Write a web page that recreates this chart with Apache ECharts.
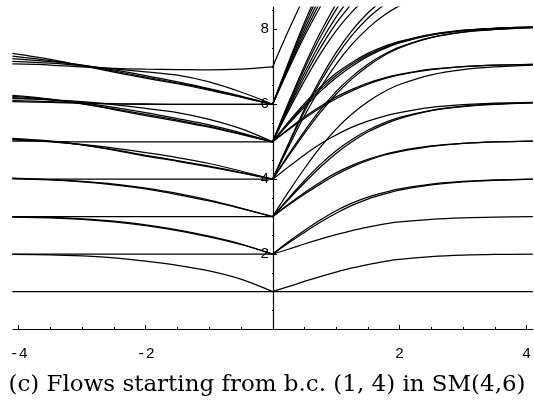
<!DOCTYPE html>
<html><head><meta charset="utf-8">
<script src="https://cdn.jsdelivr.net/npm/echarts@6/dist/echarts.min.js"></script>
<style>html,body{margin:0;padding:0;background:#fff}#c{width:534px;height:406px}</style>
</head><body><div id="c"></div>
<script>
// ---- data ----
const xLeft  = [-4.1, -3.5, -3, -2.5, -2, -1.5, -1, -0.5, 0];
const xRight = [0, 0.25, 0.5, 0.75, 1, 1.25, 1.5, 1.75, 2, 2.5, 3, 3.5, 4.1];
const xFull  = [-4.1, 4.1];
const fullLine = [1, 1];

const leftFlat = [
  [2, 2, 2, 2, 2, 2, 2, 2, 2],
  [3, 3, 3, 3, 3, 3, 3, 3, 3],
  [4.01, 4.0, 4.0, 4.0, 4.0, 4.0, 4.0, 4.0, 4.0],
  [5.02, 5.01, 5.0, 5.0, 5.0, 5.0, 5.0, 5.0, 5.0],
  [6.07, 6.05, 6.03, 6.01, 6.0, 6.0, 6.0, 6.0, 6.0],
  [6.1, 6.07, 6.04, 6.02, 6.01, 6.0, 6.0, 6.0, 6.0],
  [7.08, 7.05, 7.0, 6.96, 6.94, 6.93, 6.92, 6.94, 7.0]
];
const leftDrop = [
  [1.99, 1.98, 1.95, 1.9, 1.81, 1.7, 1.55, 1.33, 1.0],
  [2.99, 2.97, 2.93, 2.86, 2.76, 2.63, 2.46, 2.26, 2.0],
  [3.0, 2.98, 2.94, 2.88, 2.78, 2.65, 2.48, 2.27, 2.0],
  [4.02, 3.98, 3.93, 3.85, 3.74, 3.59, 3.42, 3.22, 3.0],
  [4.03, 3.99, 3.94, 3.87, 3.76, 3.62, 3.44, 3.23, 3.0],
  [5.05, 5.0, 4.93, 4.83, 4.71, 4.58, 4.42, 4.22, 4.0],
  [5.07, 5.01, 4.92, 4.79, 4.64, 4.5, 4.35, 4.18, 4.0],
  [5.09, 5.02, 4.92, 4.78, 4.62, 4.48, 4.33, 4.17, 4.0],
  [6.15, 6.12, 6.07, 5.99, 5.89, 5.78, 5.6, 5.35, 5.0],
  [6.18, 6.12, 6.04, 5.92, 5.78, 5.62, 5.45, 5.24, 5.0],
  [6.21, 6.13, 6.02, 5.88, 5.73, 5.58, 5.41, 5.21, 5.0],
  [6.24, 6.14, 6.01, 5.86, 5.7, 5.55, 5.39, 5.2, 5.0],
  [7.15, 7.1, 7.03, 6.95, 6.87, 6.78, 6.6, 6.33, 6.0],
  [7.22, 7.14, 7.05, 6.92, 6.77, 6.6, 6.42, 6.22, 6.0],
  [7.29, 7.17, 7.04, 6.89, 6.73, 6.57, 6.4, 6.2, 6.0],
  [7.36, 7.2, 7.03, 6.86, 6.7, 6.55, 6.38, 6.19, 6.0]
];
const rightRise = [
  [1, 1.13, 1.27, 1.4, 1.52, 1.63, 1.72, 1.8, 1.86, 1.93, 1.97, 1.99, 2.0],
  [2, 2.13, 2.27, 2.4, 2.52, 2.63, 2.72, 2.8, 2.86, 2.93, 2.97, 2.99, 3.0],
  [2, 2.33, 2.63, 2.91, 3.16, 3.36, 3.52, 3.64, 3.74, 3.87, 3.94, 3.98, 4.0],
  [2, 2.3, 2.58, 2.85, 3.09, 3.3, 3.47, 3.6, 3.71, 3.85, 3.93, 3.97, 4.0],
  [3, 3.33, 3.64, 3.92, 4.17, 4.37, 4.53, 4.66, 4.76, 4.89, 4.96, 5.0, 5.02],
  [3, 3.31, 3.6, 3.87, 4.12, 4.33, 4.5, 4.64, 4.74, 4.88, 4.96, 5.0, 5.02],
  [3, 3.49, 3.96, 4.39, 4.76, 5.06, 5.31, 5.5, 5.65, 5.84, 5.95, 6.01, 6.04],
  [3, 3.46, 3.9, 4.32, 4.69, 5.0, 5.26, 5.46, 5.62, 5.83, 5.94, 6.0, 6.04],
  [3, 3.66, 4.28, 4.85, 5.34, 5.74, 6.07, 6.33, 6.53, 6.79, 6.93, 7.0, 7.05],
  [4, 4.33, 4.65, 4.94, 5.18, 5.39, 5.55, 5.68, 5.78, 5.92, 5.99, 6.03, 6.05],
  [4, 4.66, 5.28, 5.85, 6.34, 6.74, 7.07, 7.33, 7.53, 7.79, 7.93, 8.0, 8.05],
  [4, 4.62, 5.22, 5.78, 6.27, 6.68, 7.02, 7.3, 7.51, 7.78, 7.93, 8.0, 8.05],
  [5, 5.5, 5.97, 6.4, 6.77, 7.07, 7.32, 7.51, 7.66, 7.86, 7.97, 8.03, 8.06],
  [5, 5.47, 5.92, 6.34, 6.71, 7.02, 7.28, 7.48, 7.64, 7.85, 7.97, 8.03, 8.06],
  [5, 5.53, 6.02, 6.46, 6.83, 7.12, 7.36, 7.54, 7.68, 7.87, 7.98, 8.03, 8.06],
  [5, 5.34, 5.66, 5.94, 6.2, 6.4, 6.57, 6.7, 6.8, 6.94, 7.01, 7.05, 7.07],
  [5, 5.32, 5.62, 5.9, 6.15, 6.36, 6.54, 6.68, 6.79, 6.93, 7.01, 7.05, 7.07]
];
const rightSteep = [
  [4, 4.95, 5.86, 6.67, 7.38, 7.97, 8.44, 8.8],
  [4, 4.92, 5.8, 6.59, 7.27, 7.84, 8.3, 8.65],
  [4, 4.86, 5.69, 6.43, 7.07, 7.6, 8.03, 8.37, 8.63, 8.9],
  [5, 6.04, 7.02, 7.91, 8.68],
  [5, 5.99, 6.94, 7.79, 8.53, 9.14],
  [5, 5.94, 6.83, 7.64, 8.33, 8.91],
  [5, 5.89, 6.73, 7.5, 8.16, 8.7],
  [5, 5.83, 6.62, 7.34, 7.96, 8.47, 8.88],
  [6, 7.12, 8.18, 9.13],
  [6, 7.07, 8.09, 9.01],
  [6, 7.02, 7.99, 8.87],
  [6, 6.97, 7.9, 8.73],
  [6, 6.93, 7.81, 8.6, 9.29],
  [7, 7.97, 8.88]
];
const xMajorTicks = [-4, -2, 2, 4];
const xMinorTicks = [-3.5, -3, -2.5, -1.5, -1, -0.5, 0.5, 1, 1.5, 2.5, 3, 3.5];
const yMajorTicks = [2, 4, 6, 8];
const yMinorTicks = [0.5, 1, 1.5, 2.5, 3, 3.5, 4.5, 5, 5.5, 6.5, 7, 7.5, 8.5];
const caption = '(c) Flows starting from b.c. (1, 4) in SM(4,6)';

// ---- chart ----
const series = [];
function addLine(xs, ys) {
  series.push({
    type: 'line', data: ys.map((y, i) => [xs[i], y]),
    xAxisIndex: 0, yAxisIndex: 0,
    showSymbol: false, symbol: 'none', smooth: 0.3,
    lineStyle: { color: '#000', width: 1.25 }, silent: true, animation: false, clip: true
  });
}
addLine(xFull, fullLine);
leftFlat.forEach(ys => addLine(xLeft, ys));
leftDrop.forEach(ys => addLine(xLeft, ys));
rightRise.forEach(ys => addLine(xRight, ys));
rightSteep.forEach(ys => addLine(xRight, ys));

const W = 534, GL = 13, GR = 0, GT = 7, GB = 77;
const XMIN = -4.09, XMAX = 4.1, YMIN = 0, YMAX = 8.6;
const gridW = W - GL - GR;
const zeroFromLeft = gridW * (0 - XMIN) / (XMAX - XMIN);
const zeroFromRight = gridW - zeroFromLeft;
const gridH = 406 - GT - GB;

// caption size fitted to the reference width
const cv = document.createElement('canvas').getContext('2d');
cv.font = '20px "DejaVu Serif"';
const capSize = Math.min(24, 20 * 517 / cv.measureText(caption).width);

const axisFont = { fontFamily: 'Liberation Mono', fontSize: 15, color: '#000' };
const chart = echarts.init(document.getElementById('c'), null, { renderer: 'canvas' });
chart.setOption({
  animation: false,
  backgroundColor: '#fff',
  grid: { left: GL, right: GR, top: GT, bottom: GB, containLabel: false },
  xAxis: [
    { type: 'value', position: 'bottom', min: XMIN, max: XMAX,
      axisLine: { show: true, onZero: false, lineStyle: { color: '#000', width: 1.2 } },
      axisTick: { show: true, inside: true, length: 4, customValues: xMajorTicks, lineStyle: { color: '#000', width: 1 } },
      axisLabel: { show: true, customValues: xMajorTicks, margin: 18, formatter: v => String(v), ...axisFont },
      splitLine: { show: false } },
    { type: 'value', position: 'top', offset: -gridH, min: XMIN, max: XMAX,
      axisLine: { show: false, onZero: false },
      axisTick: { show: true, inside: false, length: 2, customValues: xMinorTicks, lineStyle: { color: '#000', width: 1 } },
      axisLabel: { show: false }, splitLine: { show: false } }
  ],
  yAxis: [
    { type: 'value', position: 'left', offset: -zeroFromLeft, min: YMIN, max: YMAX,
      axisLine: { show: true, onZero: false, lineStyle: { color: '#000', width: 1.2 } },
      axisTick: { show: true, inside: true, length: 4, customValues: yMajorTicks, lineStyle: { color: '#000', width: 1 } },
      axisLabel: { show: true, customValues: yMajorTicks, margin: 4, formatter: v => String(v), ...axisFont },
      splitLine: { show: false } },
    { type: 'value', position: 'right', offset: -zeroFromRight, min: YMIN, max: YMAX,
      axisLine: { show: false, onZero: false },
      axisTick: { show: true, inside: false, length: 2, customValues: yMinorTicks, lineStyle: { color: '#000', width: 1 } },
      axisLabel: { show: false }, splitLine: { show: false } }
  ],
  graphic: [{
    type: 'text', x: 267, y: 385,
    style: { text: caption, font: capSize.toFixed(2) + 'px "DejaVu Serif"', fill: '#000',
             textAlign: 'center', textVerticalAlign: 'middle', align: 'center', verticalAlign: 'middle' }
  }],
  series: series
});
</script>
</body></html>
